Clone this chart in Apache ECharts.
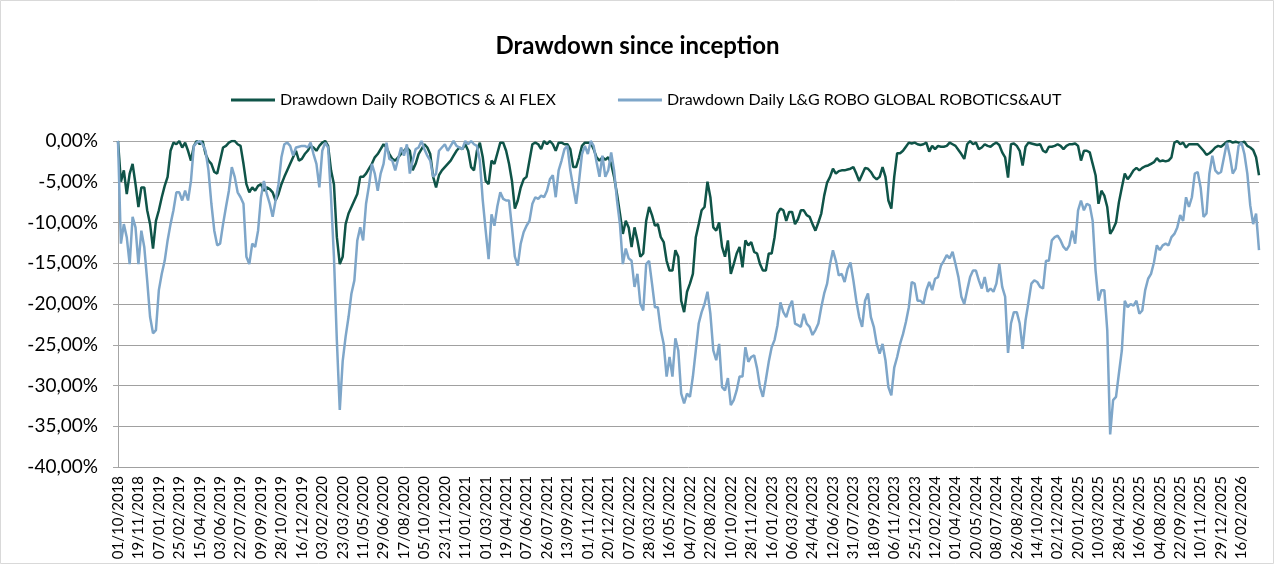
<!DOCTYPE html>
<html>
<head>
<meta http-equiv="Content-Type" content="text/html; charset=UTF-8">
<title>Drawdown since inception</title>
<script type="text/javascript" src="https://cdn.jsdelivr.net/npm/echarts@6/dist/echarts.min.js"></script>
<style>
  html, body { margin: 0; padding: 0; background: #fff; }
</style>
</head>
<body>
    <div id="main" style="width: 1275px; height: 565px;"></div>
    <script type="text/javascript">
        // weekly points, first one on 01/10/2018
        var startDate = new Date(2018, 9, 1);
        var stepDays = 7;
        var labelEvery = 7; // one label every 49 days

        var seriesNames = ['Drawdown Daily ROBOTICS & AI FLEX', 'Drawdown Daily L&G ROBO GLOBAL ROBOTICS&AUT'];

        // drawdown in %
        var flex = [
            0, -5.0, -3.6, -6.5, -4.0, -2.8, -5.3, -8.1, -5.7, -5.7,
            -8.5, -10.2, -13.2, -9.8, -8.5, -6.9, -5.5, -4.4, -1.2, -0.2,
            -0.4, 0, -0.8, -0.2, -1.2, -2.4, -0.6, 0, -0.4, 0,
            -1.6, -2.4, -2.8, -3.8, -4.0, -2.4, -0.8, -0.6, -0.2, 0,
            0, -0.4, -0.6, -2.8, -5.3, -6.3, -5.7, -6.1, -5.5, -5.3,
            -6.1, -5.7, -5.9, -6.3, -7.3, -6.5, -5.3, -4.4, -3.6, -2.8,
            -2.0, -1.2, -2.4, -2.2, -1.6, -1.2, -0.6, -0.8, -1.2, -0.6,
            -0.2, 0, -0.6, -3.6, -5.3, -11.8, -15.1, -14.2, -10.2, -8.9,
            -8.1, -7.3, -6.5, -4.4, -4.4, -4.0, -3.4, -2.8, -2.0, -1.6,
            -1.0, -0.4, -0.8, -1.6, -2.2, -2.4, -2.0, -1.6, -1.2, -0.8,
            -1.2, -3.6, -2.8, -1.6, -1.0, -0.4, -0.8, -1.6, -4.4, -5.7,
            -4.2, -3.6, -3.2, -2.8, -2.4, -1.8, -1.2, -0.8, -1.0, -0.4,
            -1.2, -3.2, -3.6, -1.2, -0.2, -2.0, -4.9, -5.3, -2.4, -2.8,
            -1.5, -0.2, -0.2, -1.2, -2.8, -4.9, -8.3, -7.3, -5.7, -4.7,
            -4.4, -2.4, -0.4, -0.2, -0.4, -1.0, 0, -0.4, 0, -0.4,
            -1.2, -0.2, -0.2, -0.4, -0.4, -1.0, -3.2, -3.2, -2.0, -0.6,
            -0.2, -0.2, -0.2, -1.0, -2.0, -2.4, -2.0, -2.3, -2.0, -2.8,
            -4.4, -6.5, -8.9, -11.4, -9.8, -10.6, -13.0, -10.6, -12.2, -14.2,
            -13.8, -9.8, -8.1, -9.1, -10.4, -10.2, -11.8, -12.4, -14.7, -15.9,
            -15.9, -13.4, -14.2, -19.6, -21.0, -18.5, -17.5, -16.3, -11.8, -10.2,
            -8.5, -8.1, -5.0, -6.9, -10.6, -11.0, -10.0, -13.0, -14.2, -12.2,
            -16.3, -15.1, -13.8, -13.0, -15.5, -12.2, -12.8, -12.4, -13.6, -13.8,
            -15.1, -15.9, -15.9, -13.8, -13.8, -11.8, -8.9, -8.3, -8.5, -9.8,
            -8.7, -8.7, -10.2, -9.6, -8.5, -8.5, -9.1, -9.3, -10.2, -11.0,
            -10.0, -8.9, -6.7, -5.1, -4.4, -3.4, -4.0, -3.7, -3.6, -3.6,
            -3.5, -3.4, -3.2, -4.0, -4.9, -4.1, -3.3, -3.4, -3.8, -4.4,
            -4.7, -4.4, -3.2, -4.4, -7.3, -8.3, -4.4, -1.5, -1.5, -1.2,
            -0.7, -0.2, -0.3, -0.2, -0.4, -0.5, -0.4, -0.2, -1.3, -0.6,
            -1.0, -0.6, -0.7, -0.7, -0.6, -0.2, -0.4, -0.6, -1.1, -1.6,
            -2.2, -0.4, 0, -0.4, -0.2, -1.0, -0.8, -0.4, -0.6, -0.7,
            -0.4, -0.2, -0.5, -1.4, -2.0, -4.5, -0.4, -0.3, -0.6, -1.2,
            -3.0, -0.7, -0.2, -0.3, -0.4, -0.5, -0.4, -1.2, -1.4, -0.7,
            -0.7, -0.6, -0.4, -0.6, -1.0, -0.6, -0.4, -0.4, -0.3, -0.6,
            -2.4, -1.2, -1.2, -1.4, -2.8, -4.2, -7.7, -6.1, -6.7, -8.1,
            -11.4, -10.8, -10.0, -7.5, -5.7, -4.0, -4.7, -4.2, -3.6, -3.3,
            -3.6, -3.3, -3.1, -3.0, -2.8, -2.6, -2.1, -2.5, -2.4, -2.5,
            -2.4, -2.0, -0.2, 0, -0.4, -0.2, -0.8, -0.4, -0.4, -0.4,
            -0.4, -0.8, -1.2, -1.7, -1.5, -1.2, -0.8, -0.6, -0.7, -0.4,
            -0.1, 0, -0.2, -0.1, -0.2, -0.2, -0.1, -0.6, -0.8, -1.1,
            -2.0, -4.2
        ];

        var robo = [
            0, -12.6, -10.2, -11.8, -15.1, -9.3, -10.6, -15.1, -11.0, -13.0,
            -17.1, -21.6, -23.6, -23.2, -18.3, -16.3, -14.7, -12.2, -10.2, -8.5,
            -6.3, -6.3, -7.3, -6.1, -7.3, -4.9, -0.6, -0.2, 0, -0.4,
            -1.2, -3.6, -7.7, -11.0, -12.8, -12.6, -10.2, -8.1, -6.1, -3.2,
            -4.4, -6.3, -6.9, -7.7, -14.2, -15.1, -12.6, -13.0, -11.0, -6.9,
            -4.9, -6.5, -7.7, -9.3, -7.3, -5.3, -2.0, -0.4, -0.2, -0.6,
            -1.8, -0.8, -0.7, -0.6, -0.6, -0.8, -0.2, -1.6, -2.8, -5.7,
            -1.2, -0.2, -0.8, -6.9, -14.2, -24.5, -33.0, -27.0, -24.0, -21.6,
            -18.7, -17.1, -12.2, -10.6, -12.2, -7.7, -5.5, -2.8, -4.0, -6.1,
            -4.0, -2.8, -0.2, -2.2, -2.4, -3.6, -2.2, -0.8, -1.8, -0.4,
            -4.0, -2.4, -1.0, -0.8, 0, -1.0, -1.8, -2.4, -4.4, -4.0,
            -1.2, -0.8, -0.4, -1.2, -0.6, 0, -0.6, -0.8, -1.0, 0,
            -0.4, 0, -0.4, -0.6, -2.4, -7.3, -11.0, -14.5, -9.0, -10.4,
            -8.0, -6.3, -7.1, -7.3, -7.3, -10.6, -14.2, -15.3, -12.6, -11.2,
            -10.4, -9.8, -7.7, -6.9, -7.1, -6.7, -6.9, -6.1, -4.7, -4.2,
            -6.9, -3.6, -2.4, -1.0, -0.6, -3.6, -5.7, -7.7, -4.9, -1.6,
            -0.6, -1.6, 0, -0.6, -2.6, -4.4, -1.8, -4.4, -3.6, -1.4,
            -3.6, -7.3, -10.2, -15.1, -13.2, -14.4, -14.7, -17.9, -16.3, -20.0,
            -20.8, -15.1, -14.7, -17.5, -20.4, -20.4, -23.2, -24.9, -28.9, -26.5,
            -28.9, -24.2, -25.7, -31.0, -32.2, -31.0, -31.4, -28.9, -25.7, -22.4,
            -21.0, -20.0, -18.5, -21.2, -25.7, -26.9, -24.9, -30.2, -30.6, -29.1,
            -32.4, -31.8, -30.6, -28.9, -28.9, -25.3, -27.1, -26.5, -26.3, -27.9,
            -30.2, -31.4, -29.3, -27.1, -25.3, -24.4, -22.6, -19.8, -21.0, -21.6,
            -20.4, -19.6, -22.4, -22.6, -22.8, -21.2, -22.4, -22.8, -23.8, -23.2,
            -22.4, -20.4, -18.7, -17.5, -15.1, -13.4, -14.7, -16.5, -16.3, -17.3,
            -15.7, -14.9, -17.1, -19.6, -21.6, -22.8, -19.6, -18.7, -21.6, -22.8,
            -24.9, -26.1, -24.9, -26.9, -30.2, -31.2, -27.8, -26.5, -24.9, -23.7,
            -22.2, -20.4, -17.3, -17.5, -19.6, -19.6, -20.0, -18.3, -17.3, -18.3,
            -16.9, -16.7, -15.3, -14.7, -14.0, -14.4, -13.6, -15.1, -16.7, -19.1,
            -20.0, -18.3, -16.7, -15.9, -15.9, -17.1, -18.1, -16.7, -18.5, -18.1,
            -18.5, -17.5, -15.1, -17.9, -19.1, -26.0, -22.4, -21.0, -21.0, -22.4,
            -25.5, -22.0, -19.8, -17.5, -17.1, -17.3, -17.9, -18.1, -14.7, -14.7,
            -12.2, -11.8, -11.6, -12.2, -13.0, -13.4, -12.8, -11.0, -12.6, -8.5,
            -7.3, -8.5, -7.7, -7.9, -9.8, -15.9, -19.6, -18.3, -18.3, -23.2,
            -36.0, -31.8, -31.4, -28.5, -25.7, -19.6, -20.4, -20.0, -20.2, -19.6,
            -21.2, -20.8, -18.3, -16.9, -16.3, -14.9, -12.8, -13.4, -12.8, -12.6,
            -12.8, -11.8, -11.4, -10.6, -9.1, -9.8, -6.9, -8.1, -6.9, -4.0,
            -3.8, -5.7, -9.3, -8.9, -4.0, -1.8, -3.6, -4.0, -3.8, -2.0,
            -0.2, -1.8, -4.0, -3.4, -0.6, -0.2, -1.6, -4.0, -7.9, -10.2,
            -8.9, -13.4
        ];

        var yMin = -40, yMax = 0, yStep = 5;

        function pad(n) { return (n < 10 ? '0' : '') + n; }
        var dates = [];
        for (var i = 0; i < flex.length; i++) {
            var d = new Date(startDate.getTime());
            d.setDate(d.getDate() + i * stepDays);
            dates.push(pad(d.getDate()) + '/' + pad(d.getMonth() + 1) + '/' + d.getFullYear());
        }

        var font = 'Lato, "Open Sans", sans-serif';
        var myChart = echarts.init(document.getElementById('main'));
        myChart.setOption({
            animation: false,
            backgroundColor: '#ffffff',
            graphic: [{
                type: 'rect',
                shape: { x: 0.5, y: 0.5, width: 1273, height: 563 },
                style: { fill: 'none', stroke: '#d9d9d9', lineWidth: 1 }
            }],
            title: {
                text: 'Drawdown since inception',
                left: 'center',
                top: 29,
                textStyle: { fontFamily: font, fontSize: 24, fontWeight: 'bold', color: '#000' }
            },
            legend: {
                left: 226,
                top: 87,
                itemGap: 62,
                itemWidth: 44,
                itemHeight: 3,
                icon: 'rect',
                textStyle: { fontFamily: font, fontSize: 16, color: '#000' },
                data: seriesNames
            },
            grid: { left: 118, right: 16, top: 141, bottom: 98 },
            xAxis: {
                type: 'category',
                boundaryGap: false,
                data: dates,
                axisLine: { lineStyle: { color: '#a6a6a6', width: 1 } },
                axisTick: { show: false },
                axisLabel: {
                    interval: labelEvery - 1,
                    rotate: 90,
                    margin: 9,
                    fontFamily: font,
                    fontSize: 15,
                    color: '#000'
                },
                splitLine: { show: false }
            },
            yAxis: {
                type: 'value',
                min: yMin,
                max: yMax,
                interval: yStep,
                axisLine: { show: true, lineStyle: { color: '#a6a6a6', width: 1 } },
                axisTick: { show: true, length: 5, lineStyle: { color: '#a6a6a6' } },
                axisLabel: {
                    margin: 20,
                    fontFamily: font,
                    fontSize: 19,
                    color: '#000',
                    formatter: function (v) { return v.toFixed(2).replace('.', ',') + '%'; }
                },
                splitLine: { lineStyle: { color: '#a0a0a0', width: 1 } }
            },
            series: [{
                name: seriesNames[0],
                type: 'line',
                data: flex,
                symbol: 'none',
                color: '#0f5448',
                lineStyle: { color: '#0f5448', width: 2.5 }
            }, {
                name: seriesNames[1],
                type: 'line',
                data: robo,
                symbol: 'none',
                color: '#7ea6c9',
                lineStyle: { color: '#7ea6c9', width: 2.5 }
            }]
        });
    </script>
</body>
</html>
